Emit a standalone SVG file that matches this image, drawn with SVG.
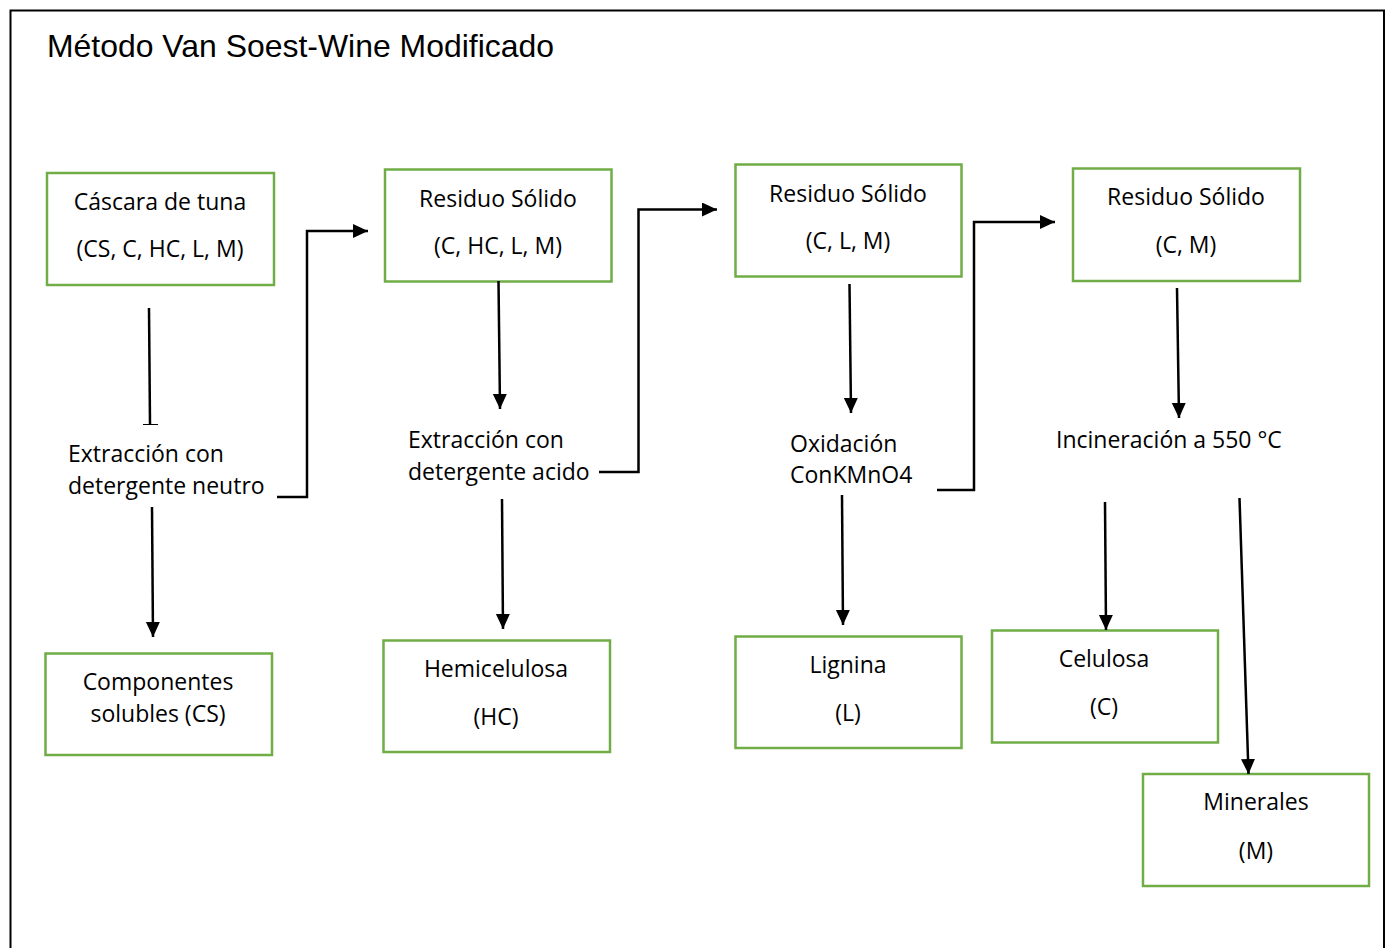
<svg xmlns="http://www.w3.org/2000/svg" width="1389" height="948" viewBox="0 0 1389 948">
<style>
.box{fill:#fff;stroke:#70AD47;stroke-width:2.5}
.t{font-family:"Open Sans","Noto Sans",sans-serif;font-size:23px;fill:#000}
.c{text-anchor:middle}
.ln{fill:none;stroke:#000;stroke-width:2.5}
.title{font-family:"Liberation Sans",Arial,sans-serif;font-size:32px;fill:#000}
</style>
<defs>
<marker id="ah" markerUnits="userSpaceOnUse" markerWidth="16" markerHeight="15" refX="15" refY="7" orient="auto">
<path d="M0,0 L15,7 L0,14 z" fill="#000"/>
</marker>
</defs>
<rect x="0" y="0" width="1389" height="948" fill="#fff"/>
<path d="M10.5,960 V10.5 H1384 V960" fill="none" stroke="#000" stroke-width="2"/>
<text class="title" x="47" y="57" textLength="507" lengthAdjust="spacingAndGlyphs">Método Van Soest-Wine Modificado</text>

<g id="n-cascara"><rect class="box" x="47" y="173" width="227" height="112"/>
<text class="t c" x="160" y="210">Cáscara de tuna</text><text class="t c" x="160" y="257">(CS, C, HC, L, M)</text></g>
<g id="n-res1"><rect class="box" x="385" y="169.5" width="226.5" height="112"/>
<text class="t c" x="498" y="207">Residuo Sólido</text><text class="t c" x="498" y="254">(C, HC, L, M)</text></g>
<g id="n-res2"><rect class="box" x="735.5" y="164.5" width="226" height="112"/>
<text class="t c" x="848" y="202">Residuo Sólido</text><text class="t c" x="848" y="249">(C, L, M)</text></g>
<g id="n-res3"><rect class="box" x="1073" y="168.5" width="227" height="112.5"/>
<text class="t c" x="1186" y="205">Residuo Sólido</text><text class="t c" x="1186" y="253">(C, M)</text></g>
<g id="n-comp"><rect class="box" x="45.5" y="653.5" width="226.5" height="101.5"/>
<text class="t c" x="158" y="690">Componentes</text><text class="t c" x="158" y="722">solubles (CS)</text></g>
<g id="n-hemi"><rect class="box" x="383.5" y="640.5" width="226.5" height="111.5"/>
<text class="t c" x="496" y="677">Hemicelulosa</text><text class="t c" x="496" y="725">(HC)</text></g>
<g id="n-lig"><rect class="box" x="735.5" y="636.5" width="226" height="111.5"/>
<text class="t c" x="848" y="673">Lignina</text><text class="t c" x="848" y="721">(L)</text></g>
<g id="n-cel"><rect class="box" x="992" y="630.5" width="226" height="112"/>
<text class="t c" x="1104" y="667">Celulosa</text><text class="t c" x="1104" y="715">(C)</text></g>
<g id="n-min"><rect class="box" x="1143" y="774" width="226" height="112"/>
<text class="t c" x="1256" y="810">Minerales</text><text class="t c" x="1256" y="859">(M)</text></g>

<g id="p-neutro"><text class="t" x="68" y="462">Extracción con</text><text class="t" x="68" y="494">detergente neutro</text></g>
<g id="p-acido"><text class="t" x="408" y="448">Extracción con</text><text class="t" x="408" y="480">detergente acido</text></g>
<g id="p-oxid"><text class="t" x="790" y="452">Oxidación</text><text class="t" x="790" y="483">ConKMnO4</text></g>
<g id="p-incin"><text class="t" x="1056" y="448">Incineración a 550 °C</text></g>

<g id="connectors">
<line class="ln" x1="149" y1="308" x2="150" y2="424"/>
<line x1="143" y1="424.5" x2="158" y2="424.5" stroke="#000" stroke-width="1"/>
<line class="ln" x1="152" y1="507" x2="153" y2="637" marker-end="url(#ah)"/>
<path class="ln" d="M277,497 H307 V231 H368" marker-end="url(#ah)"/>
<line class="ln" x1="498.5" y1="281" x2="500" y2="409" marker-end="url(#ah)"/>
<line class="ln" x1="502" y1="499" x2="503" y2="629" marker-end="url(#ah)"/>
<path class="ln" d="M599,472 H638.5 V209.5 H717" marker-end="url(#ah)"/>
<line class="ln" x1="849.5" y1="284" x2="851" y2="413" marker-end="url(#ah)"/>
<line class="ln" x1="842" y1="495" x2="843" y2="625" marker-end="url(#ah)"/>
<path class="ln" d="M937,490 H974 V222 H1055" marker-end="url(#ah)"/>
<line class="ln" x1="1177" y1="288" x2="1179" y2="418" marker-end="url(#ah)"/>
<line class="ln" x1="1105" y1="502" x2="1106" y2="630" marker-end="url(#ah)"/>
<line class="ln" x1="1239.5" y1="498" x2="1248.5" y2="774" marker-end="url(#ah)"/>
</g>
</svg>
